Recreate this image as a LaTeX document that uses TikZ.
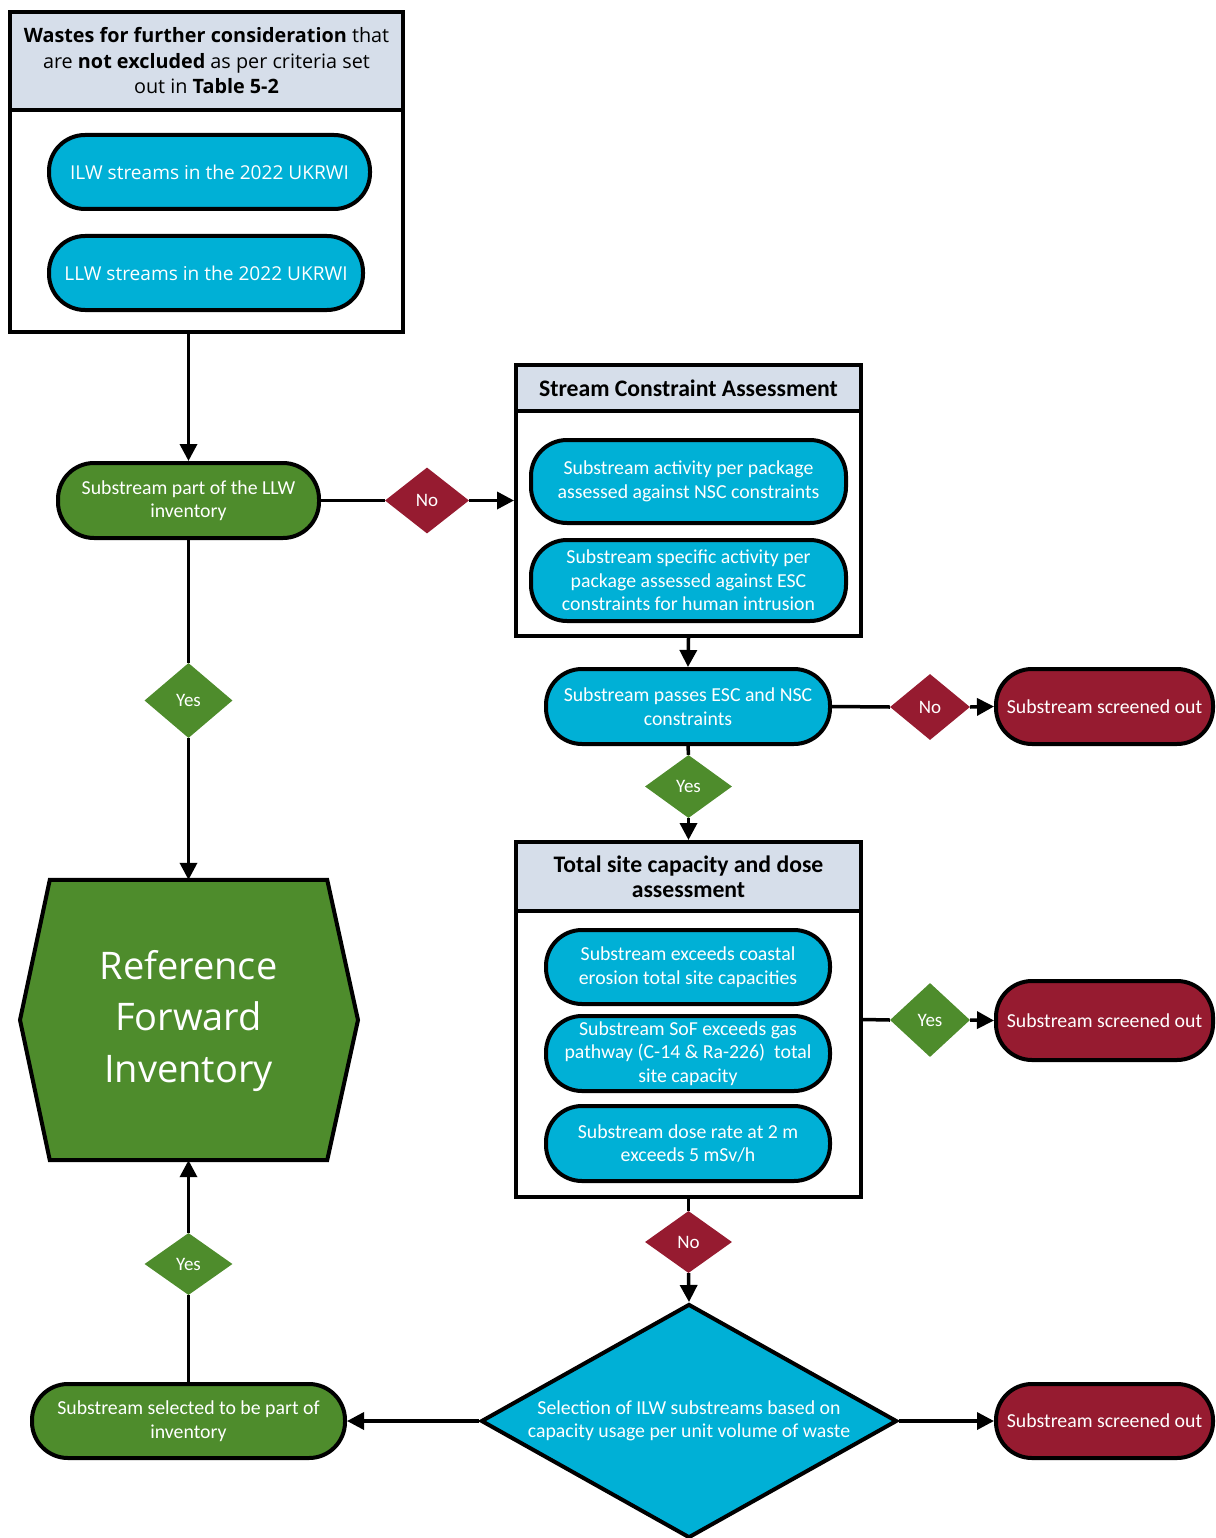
\documentclass[tikz,border=0pt]{standalone}
\usepackage{fontspec}
\setmainfont{Carlito}
\newfontfamily\osans{Open Sans}
\usetikzlibrary{shapes.geometric,arrows.meta}
\definecolor{cblue}{RGB}{0,176,214}
\definecolor{cgreen}{RGB}{78,140,44}
\definecolor{cred}{RGB}{150,27,48}
\definecolor{chead}{RGB}{214,222,234}
\tikzset{
  pill/.style={draw=black, line width=4pt, rectangle, rounded corners=36pt, align=center, text=white, inner sep=1pt, font=\fontsize{19.8}{23.5}\selectfont},
  bluepill/.style={pill, fill=cblue},
  greenpill/.style={pill, fill=cgreen},
  redpill/.style={pill, fill=cred, minimum width=217pt, minimum height=75pt},
  boxnode/.style={draw=black, line width=4pt, rectangle, inner sep=0pt},
  headnode/.style={draw=black, line width=4pt, rectangle, fill=chead, inner sep=0pt, align=center, font=\fontsize{23.7}{25}\selectfont},
  dia/.style={diamond, inner sep=0pt, text=white, font=\fontsize{19}{20}\selectfont},
  reddia/.style={dia, fill=cred},
  greendia/.style={dia, fill=cgreen},
  conn/.style={line width=3.5pt, draw=black},
  arr/.style={conn, -{Triangle[length=17pt,width=17pt]}},
}
\begin{document}
\begin{tikzpicture}[x=1pt,y=-1pt]
\useasboundingbox (0,0) rectangle (1215,1538);
% top box
\node[boxnode, minimum width=393pt, minimum height=320pt] (wbox) at (206.5,172) {};
\node[headnode, minimum width=393pt, minimum height=98pt, font=\osans\fontsize{19.8}{25.5}\selectfont] (whead) at (206.5,61) {\textbf{Wastes for further consideration} that\\ are \textbf{not excluded} as per criteria set\\ out in \textbf{Table 5-2}};
\node[bluepill, minimum width=321pt, minimum height=74pt, font=\osans\fontsize{19.1}{24}\selectfont] (ilw) at (209.5,172) {ILW streams in the 2022 UKRWI};
\node[bluepill, minimum width=314pt, minimum height=74pt, font=\osans\fontsize{19.1}{24}\selectfont] (llws) at (206,273) {LLW streams in the 2022 UKRWI};
% LLW inventory pill
\node[greenpill, minimum width=261pt, minimum height=75pt] (llw) at (188.5,500.5) {Substream part of the LLW\\ inventory};
% stream constraint box
\node[boxnode, minimum width=345pt, minimum height=271pt] (scbox) at (688.5,500.5) {};
\node[headnode, minimum width=345pt, minimum height=46pt] (schead) at (688.5,388) {\textbf{Stream Constraint Assessment}};
\node[bluepill, minimum width=315pt, minimum height=83pt] (sc1) at (688.5,481.5) {Substream activity per package\\ assessed against NSC constraints};
\node[bluepill, minimum width=315pt, minimum height=81pt] (sc2) at (688.5,580.5) {Substream specific activity per\\ package assessed against ESC\\ constraints for human intrusion};
% passes
\node[bluepill, minimum width=284pt, minimum height=75pt] (pass) at (688,706.5) {Substream passes ESC and NSC\\ constraints};
\node[reddia, minimum width=80pt, minimum height=66pt] (no2) at (930,707) {No};
\node[redpill] (out1) at (1104.5,706.5) {Substream screened out};
\node[greendia, minimum width=87pt, minimum height=63pt] (yes2) at (688.5,786.5) {Yes};
% total site box
\node[boxnode, minimum width=345pt, minimum height=355pt] (tsbox) at (688.5,1019.5) {};
\node[headnode, minimum width=345pt, minimum height=69pt] (tshead) at (688.5,876.5) {\textbf{Total site capacity and dose}\\ \textbf{assessment}};
\node[bluepill, minimum width=284pt, minimum height=74pt] (ts1) at (688,967) {Substream exceeds coastal\\ erosion total site capacities};
\node[bluepill, minimum width=284pt, minimum height=75pt] (ts2) at (688,1053.5) {Substream SoF exceeds gas\\ pathway (C-14 \& Ra-226)\ \ total\\ site capacity};
\node[bluepill, minimum width=284pt, minimum height=75pt] (ts3) at (688,1143.5) {Substream dose rate at 2 m\\ exceeds 5 mSv/h};
\node[greendia, minimum width=80pt, minimum height=74pt] (yes3) at (930,1020) {Yes};
\node[redpill, minimum height=79pt] (out2) at (1104.5,1020.5) {Substream screened out};
% no diamonds
\node[reddia, minimum width=84pt, minimum height=66pt] (no1) at (427,500.5) {No};
\node[reddia, minimum width=87pt, minimum height=62pt] (no3) at (688.5,1242) {No};
% big decision diamond
\node[diamond, aspect=1.78, fill=cblue, draw=black, line width=4pt, inner sep=0pt, minimum width=416pt, minimum height=234pt, align=center, text=white, font=\fontsize{19.8}{23.5}\selectfont] (sel) at (689,1421) {Selection of ILW substreams based on\\ capacity usage per unit volume of waste};
\node[greenpill, minimum width=313pt, minimum height=74pt] (inv) at (188.5,1421) {Substream selected to be part of\\ inventory};
\node[redpill, minimum height=74pt] (out3) at (1104.5,1421) {Substream screened out};
% hexagon
\node[minimum width=277pt, minimum height=280pt, inner sep=0pt] (hex) at (188.5,1020) {};
\coordinate (hexl) at (20,1020);
\coordinate (hexr) at (358,1020);
\fill[cgreen] (hex.north west) -- (hex.north east) -- (hexr) -- (hex.south east) -- (hex.south west) -- (hexl) -- cycle;
\draw[line width=4pt, line join=miter] (hex.north west) -- (hex.north east) -- (hexr) -- (hex.south east) -- (hex.south west) -- (hexl) -- cycle;
\node[align=center, text=white, font=\osans\fontsize{38}{51.5}\selectfont] (hextext) at ([yshift=-1pt]hex.center) {Reference\\ Forward\\ Inventory};
\node[greendia, minimum width=88pt, minimum height=75pt] (yes1) at (188.5,700.5) {Yes};
\node[greendia, minimum width=88pt, minimum height=62pt] (yes4) at (188.5,1264) {Yes};
% connectors
\draw[arr] (llw.north |- wbox.south) -- (llw.north);
\draw[conn] (llw.east) -- (no1.west);
\draw[arr] (no1.east) -- (scbox.west);
\draw[arr] (scbox.south) -- (pass.north);
\draw[conn] (pass.east) -- (no2.west);
\draw[arr] (no2.east) -- (out1.west);
\draw[conn] (pass.south) -- (yes2.north);
\draw[arr] (yes2.south) -- (tsbox.north);
\draw[conn] (tsbox.east) -- (yes3.west);
\draw[arr] (yes3.east) -- (out2.west);
\draw[conn] (tsbox.south) -- (no3.north);
\draw[arr] (no3.south) -- (sel.north);
\draw[arr] (sel.west) -- (inv.east);
\draw[arr] (sel.east) -- (out3.west);
\draw[conn] (inv.north) -- (yes4.south);
\draw[arr] (yes4.north) -- (hex.south);
\draw[conn] (llw.south) -- (yes1.north);
\draw[arr] (yes1.south) -- (hex.north);
\end{tikzpicture}
\end{document}
